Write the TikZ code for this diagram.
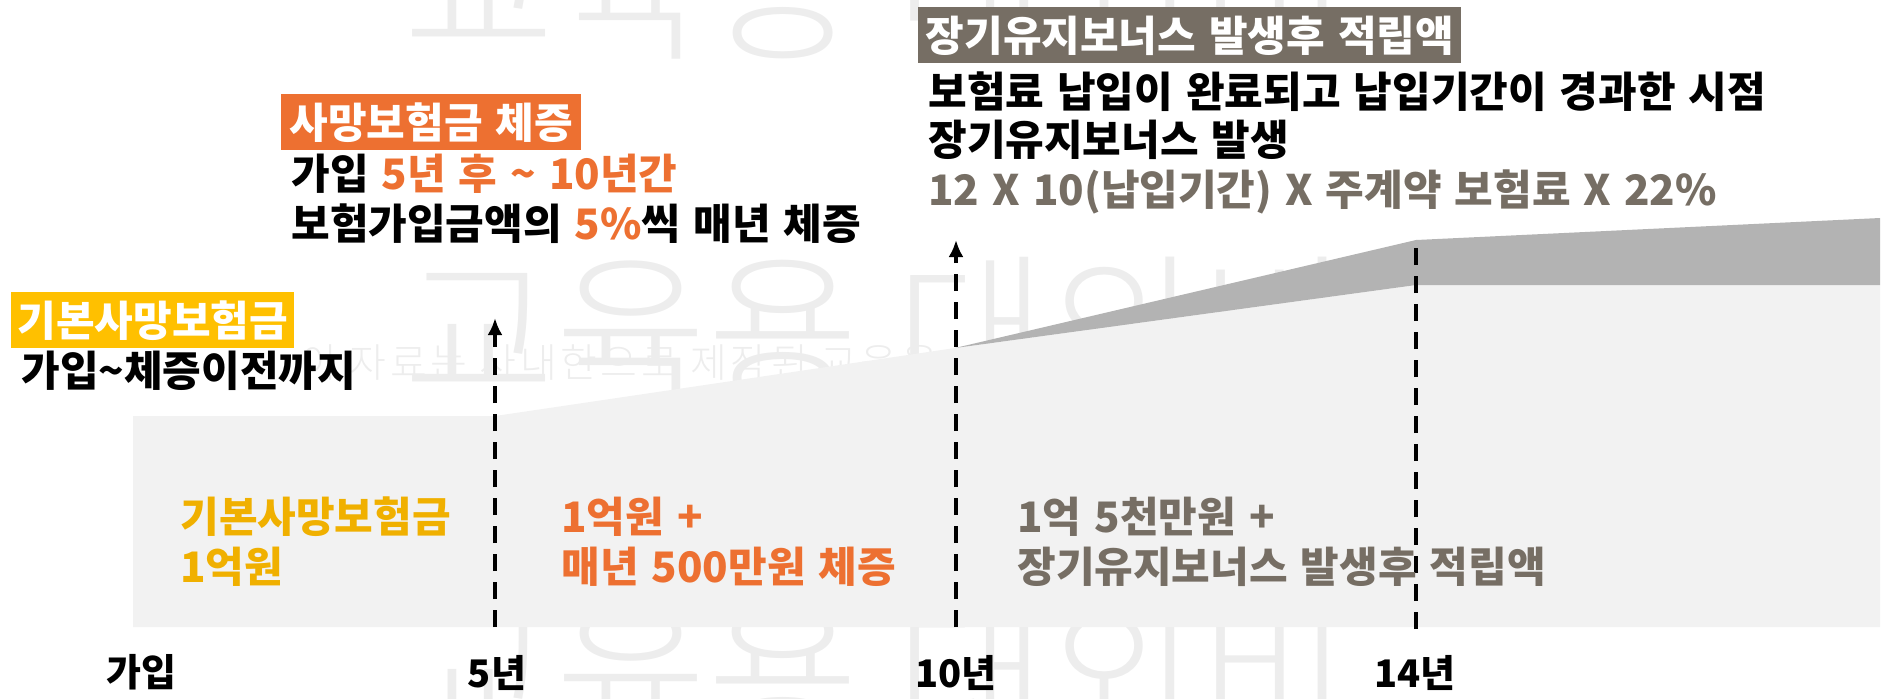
\documentclass[tikz,border=0pt]{standalone}
\usepackage{fontspec}
\setmainfont{Noto Sans CJK KR}[WordSpace=1.35]
\IfFontExistsTF{Noto Sans CJK KR Light}{%
  \newfontfamily\wmfont{Noto Sans CJK KR Light}%
  \newfontfamily\wmsmallfont{Noto Sans CJK KR Light}[LetterSpace=9]}{%
  \newfontfamily\wmfont{Noto Sans CJK KR}%
  \newfontfamily\wmsmallfont{Noto Sans CJK KR}[LetterSpace=9]}
\usetikzlibrary{arrows.meta}
\definecolor{orng}{HTML}{ED7031}
\definecolor{gold}{HTML}{FFC000}
\definecolor{goldtxt}{HTML}{F0B000}
\definecolor{taupe}{HTML}{766E64}
\definecolor{lightfill}{HTML}{F2F2F2}
\definecolor{band}{HTML}{B3B3B3}
\definecolor{wm}{HTML}{EDEDED}
\begin{document}
\begin{tikzpicture}[x=0.5pt,y=-0.5pt,
  every node/.style={inner sep=0pt},
  big/.style={font=\fontsize{21}{21}\selectfont\bfseries, anchor=base west},
  tagbox/.style={font=\fontsize{21}{21}\selectfont\bfseries, text=white, minimum height=28pt, anchor=north west},
  axislbl/.style={font=\fontsize{19}{19}\selectfont\bfseries, anchor=base},
  wmbig/.style={font=\wmfont\fontsize{82.5}{82.5}\selectfont, text=wm, anchor=base west},
  wmsmall/.style={font=\wmsmallfont\fontsize{20}{20}\selectfont, text=wm, anchor=base west},
  tickline/.style={line width=1.75pt, dash pattern=on 8.5pt off 5.5pt},
  tickarrow/.style={tickline, -{Latex[length=8.5pt,width=7.5pt]}},
]
\useasboundingbox (0,0) rectangle (1890,698);
% watermark
\begin{scope}
\clip (0,0) rectangle (1890,698);
\node[wmbig] (wma) at (403,47) {교육용 대외비};
\node[wmbig] (wmb) at (403,392) {교육용 대외비};
\node[wmbig] (wmc) at (403,737) {교육용 대외비};
\node[wmsmall] (wmline) at (300,377) {이 자료는 사내한으로 제작된 교육용};
\end{scope}
% areas
\fill[lightfill] (133,416) -- (495,416) -- (955,348) -- (1416,285) -- (1880,285) -- (1880,627) -- (133,627) -- cycle;
\fill[band] (955,348) -- (1416,240) -- (1880,218) -- (1880,285) -- (1416,285) -- cycle;
% time markers
\coordinate (b5) at (495,627); \coordinate (t5) at (495,318);
\coordinate (b10) at (956,627); \coordinate (t10) at (956,240);
\coordinate (b14) at (1416,629); \coordinate (t14) at (1416,240);
\draw[tickarrow] (b5) -- (t5);
\draw[tickarrow] (b10) -- (t10);
\draw[tickline] (b14) -- (t14);
% axis labels
\node[axislbl] (ax0) at (141,686) {가입};
\node[axislbl] (ax5) at (497,687) {5년};
\node[axislbl] (ax10) at (956,687) {10년};
\node[axislbl] (ax14) at (1415,687) {14년};
% right annotation
\node[tagbox, fill=taupe, minimum width=271.5pt] (tagL) at (918,7) {장기유지보너스 발생후 적립액};
\node[big] (l1) at (928,107) {보험료 납입이 완료되고 납입기간이 경과한 시점};
\node[big] (l2) at (928,155) {장기유지보너스 발생};
\node[big, text=taupe] (l3) at (928,205) {12 X 10(납입기간) X 주계약 보험료 X 22\%};
% middle annotation
\node[tagbox, fill=orng, minimum width=150pt] (tagM) at (281,94) {사망보험금 체증};
\node[big] (m1) at (291,189) {가입 \textcolor{orng}{5년 후 \textasciitilde{} 10년간}};
\node[big] (m2) at (291,239) {보험가입금액의 \textcolor{orng}{5\%}씩 매년 체증};
% left annotation
\node[tagbox, fill=gold, minimum width=141.5pt] (tagB) at (11,292) {기본사망보험금};
\node[big] (b1) at (21,386) {가입\textasciitilde{}체증이전까지};
% area texts
\node[big, text=goldtxt] (g1) at (180,532) {기본사망보험금};
\node[big, text=goldtxt] (g2) at (180,582) {1억원};
\node[big, text=orng] (o1) at (561,532) {1억원 +};
\node[big, text=orng] (o2) at (561,582) {매년 500만원 체증};
\node[big, text=taupe] (t1) at (1017,532) {1억 5천만원 +};
\node[big, text=taupe] (t2) at (1017,582) {장기유지보너스 발생후 적립액};
\end{tikzpicture}
\end{document}
